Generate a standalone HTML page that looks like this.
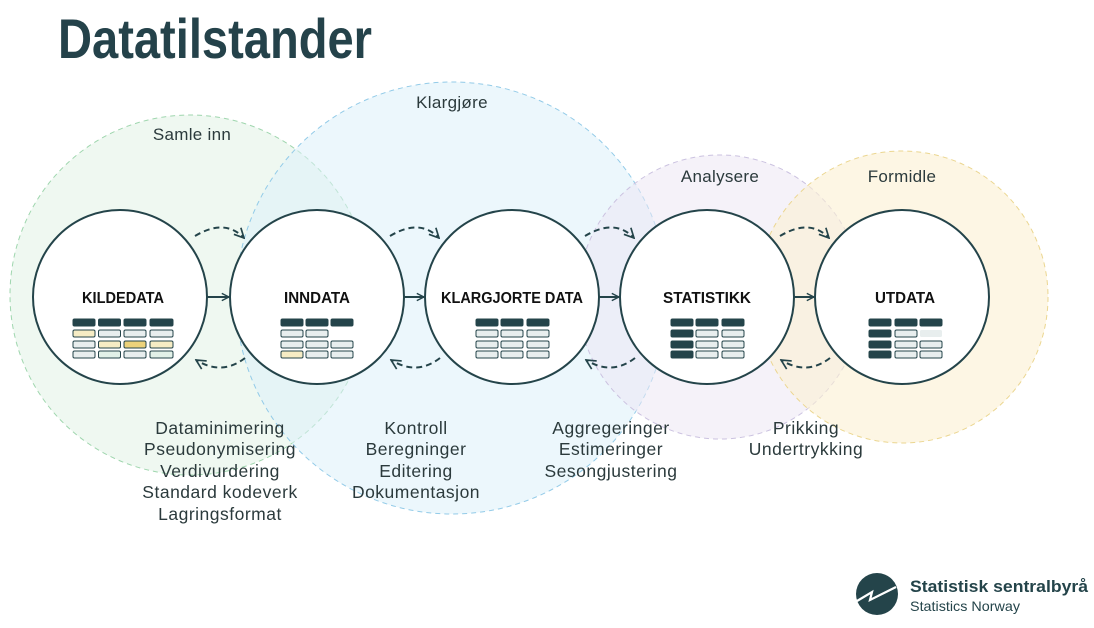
<!DOCTYPE html>
<html><head><meta charset="utf-8"><style>
html,body{margin:0;padding:0;background:#fff;}
svg{display:block;}
</style></head><body>
<svg width="1094" height="628" viewBox="0 0 1094 628" xmlns="http://www.w3.org/2000/svg" font-family="'Liberation Sans', sans-serif">
<defs>
<marker id="ah" viewBox="0 0 10 10" refX="9" refY="5" markerWidth="9" markerHeight="9" markerUnits="userSpaceOnUse" orient="auto">
<path d="M1,1 L9,5 L1,9" fill="none" stroke="#24444a" stroke-width="1.6"/>
</marker>
<marker id="ah2" viewBox="0 0 10 10" refX="9" refY="5" markerWidth="12" markerHeight="12" markerUnits="userSpaceOnUse" orient="auto">
<path d="M1,1 L9,5 L1,9" fill="none" stroke="#24444a" stroke-width="1.4"/>
</marker>
</defs>
<rect width="1094" height="628" fill="#fff"/>
<text x="58" y="58" font-size="56" font-weight="bold" fill="#24424a" textLength="314" lengthAdjust="spacingAndGlyphs">Datatilstander</text>

<circle cx="190" cy="295" r="180" fill="#e6f4ea" fill-opacity="0.65" stroke="#9fd6ae" stroke-dasharray="5,4"/>
<circle cx="452" cy="298" r="216" fill="#dcf0fa" fill-opacity="0.55" stroke="#93cbe8" stroke-dasharray="5,4"/>
<circle cx="720" cy="297" r="142" fill="#ece8f4" fill-opacity="0.55" stroke="#cbc2e0" stroke-dasharray="5,4"/>
<circle cx="902" cy="297" r="146" fill="#fbf0d2" fill-opacity="0.6" stroke="#ebd690" stroke-dasharray="5,4"/>

<g font-size="17" fill="#2b3a3c" text-anchor="middle" letter-spacing="0.3">
<text x="192" y="140">Samle inn</text>
<text x="452" y="108">Klargjøre</text>
<text x="720" y="182">Analysere</text>
<text x="902" y="182">Formidle</text>
</g>

<g fill="#fff" stroke="#24444a" stroke-width="2">
<circle cx="120" cy="297" r="87"/>
<circle cx="317" cy="297" r="87"/>
<circle cx="512" cy="297" r="87"/>
<circle cx="707" cy="297" r="87"/>
<circle cx="902" cy="297" r="87"/>
</g>

<g stroke="#24444a" stroke-width="2" marker-end="url(#ah)">
<line x1="207" y1="297" x2="229" y2="297"/>
<line x1="404" y1="297" x2="424" y2="297"/>
<line x1="599" y1="297" x2="619" y2="297"/>
<line x1="794" y1="297" x2="814" y2="297"/>
</g>

<g fill="none" stroke="#24444a" stroke-width="2" stroke-dasharray="6,4">
<path d="M195,236 Q225,218 244,238" marker-end="url(#ah2)"/>
<path d="M245,358 Q222,376 196,360" marker-end="url(#ah2)"/>
<path d="M390,236 Q420,218 439,238" marker-end="url(#ah2)"/>
<path d="M440,358 Q417,376 391,360" marker-end="url(#ah2)"/>
<path d="M585,236 Q615,218 634,238" marker-end="url(#ah2)"/>
<path d="M635,358 Q612,376 586,360" marker-end="url(#ah2)"/>
<path d="M780,236 Q810,218 829,238" marker-end="url(#ah2)"/>
<path d="M830,358 Q807,376 781,360" marker-end="url(#ah2)"/>
</g>

<g font-size="16" font-weight="bold" fill="#111" text-anchor="middle">
<text x="123" y="303" textLength="82" lengthAdjust="spacingAndGlyphs">KILDEDATA</text>
<text x="317" y="303" textLength="66" lengthAdjust="spacingAndGlyphs">INNDATA</text>
<text x="512" y="303" textLength="142" lengthAdjust="spacingAndGlyphs">KLARGJORTE DATA</text>
<text x="707" y="303" textLength="88" lengthAdjust="spacingAndGlyphs">STATISTIKK</text>
<text x="905" y="303" textLength="60" lengthAdjust="spacingAndGlyphs">UTDATA</text>
</g>

<g stroke="#24444a" stroke-width="1" fill="#e8eeee">
<g fill="#24444a"><rect x="73" y="319" width="22" height="7" rx="1.5"/><rect x="98.5" y="319" width="22" height="7" rx="1.5"/><rect x="124" y="319" width="22" height="7" rx="1.5"/><rect x="150" y="319" width="23" height="7" rx="1.5"/></g>
<rect x="73" y="330" width="22" height="7" rx="1.5" fill="#f6ecc4"/><rect x="98.5" y="330" width="22" height="7" rx="1.5"/><rect x="124" y="330" width="22" height="7" rx="1.5"/><rect x="150" y="330" width="23" height="7" rx="1.5"/>
<rect x="73" y="341" width="22" height="7" rx="1.5"/><rect x="98.5" y="341" width="22" height="7" rx="1.5" fill="#f6ecc4"/><rect x="124" y="341" width="22" height="7" rx="1.5" fill="#ecd27a"/><rect x="150" y="341" width="23" height="7" rx="1.5" fill="#f6ecc4"/>
<rect x="73" y="351" width="22" height="7" rx="1.5"/><rect x="98.5" y="351" width="22" height="7" rx="1.5" fill="#e2f1e8"/><rect x="124" y="351" width="22" height="7" rx="1.5"/><rect x="150" y="351" width="23" height="7" rx="1.5" fill="#e2f1e8"/>
<g fill="#24444a"><rect x="281" y="319" width="22" height="7" rx="1.5"/><rect x="306" y="319" width="22" height="7" rx="1.5"/><rect x="331" y="319" width="22" height="7" rx="1.5"/></g>
<rect x="281" y="330" width="22" height="7" rx="1.5"/><rect x="306" y="330" width="22" height="7" rx="1.5"/>
<rect x="281" y="341" width="22" height="7" rx="1.5"/><rect x="306" y="341" width="22" height="7" rx="1.5"/><rect x="331" y="341" width="22" height="7" rx="1.5"/>
<rect x="281" y="351" width="22" height="7" rx="1.5" fill="#f6ecc4"/><rect x="306" y="351" width="22" height="7" rx="1.5"/><rect x="331" y="351" width="22" height="7" rx="1.5"/>
<g fill="#24444a"><rect x="476" y="319" width="22" height="7" rx="1.5"/><rect x="501" y="319" width="22" height="7" rx="1.5"/><rect x="527" y="319" width="22" height="7" rx="1.5"/></g>
<rect x="476" y="330" width="22" height="7" rx="1.5"/><rect x="501" y="330" width="22" height="7" rx="1.5"/><rect x="527" y="330" width="22" height="7" rx="1.5"/>
<rect x="476" y="341" width="22" height="7" rx="1.5"/><rect x="501" y="341" width="22" height="7" rx="1.5"/><rect x="527" y="341" width="22" height="7" rx="1.5"/>
<rect x="476" y="351" width="22" height="7" rx="1.5"/><rect x="501" y="351" width="22" height="7" rx="1.5"/><rect x="527" y="351" width="22" height="7" rx="1.5"/>
<g fill="#24444a"><rect x="671" y="319" width="22" height="7" rx="1.5"/><rect x="696" y="319" width="22" height="7" rx="1.5"/><rect x="722" y="319" width="22" height="7" rx="1.5"/>
<rect x="671" y="330" width="22" height="7" rx="1.5"/><rect x="671" y="341" width="22" height="7" rx="1.5"/><rect x="671" y="351" width="22" height="7" rx="1.5"/></g>
<rect x="696" y="330" width="22" height="7" rx="1.5"/><rect x="722" y="330" width="22" height="7" rx="1.5"/>
<rect x="696" y="341" width="22" height="7" rx="1.5"/><rect x="722" y="341" width="22" height="7" rx="1.5"/>
<rect x="696" y="351" width="22" height="7" rx="1.5"/><rect x="722" y="351" width="22" height="7" rx="1.5"/>
<g fill="#24444a"><rect x="869" y="319" width="22" height="7" rx="1.5"/><rect x="895" y="319" width="22" height="7" rx="1.5"/><rect x="920" y="319" width="22" height="7" rx="1.5"/>
<rect x="869" y="330" width="22" height="7" rx="1.5"/><rect x="869" y="341" width="22" height="7" rx="1.5"/><rect x="869" y="351" width="22" height="7" rx="1.5"/></g>
<rect x="895" y="330" width="22" height="7" rx="1.5"/><rect x="920" y="330" width="22" height="7" rx="1.5" stroke="none" fill="#e8eeee"/>
<rect x="895" y="341" width="22" height="7" rx="1.5"/><rect x="920" y="341" width="22" height="7" rx="1.5"/>
<rect x="895" y="351" width="22" height="7" rx="1.5"/><rect x="920" y="351" width="22" height="7" rx="1.5"/>
</g>

<g font-size="17.5" fill="#2b3a3c" text-anchor="middle" letter-spacing="0.5">
<text x="220" y="434">Dataminimering</text>
<text x="220" y="455">Pseudonymisering</text>
<text x="220" y="477">Verdivurdering</text>
<text x="220" y="498">Standard kodeverk</text>
<text x="220" y="520">Lagringsformat</text>
<text x="416" y="434">Kontroll</text>
<text x="416" y="455">Beregninger</text>
<text x="416" y="477">Editering</text>
<text x="416" y="498">Dokumentasjon</text>
<text x="611" y="434">Aggregeringer</text>
<text x="611" y="455">Estimeringer</text>
<text x="611" y="477">Sesongjustering</text>
<text x="806" y="434">Prikking</text>
<text x="806" y="455">Undertrykking</text>
</g>

<circle cx="877" cy="594" r="21" fill="#24444a"/>
<path d="M857,601 L872,592 L870,600 L896,587" fill="none" stroke="#fff" stroke-width="2.2" stroke-linejoin="miter"/>
<text x="910" y="592" font-size="17" font-weight="bold" fill="#24444a" textLength="178" lengthAdjust="spacingAndGlyphs">Statistisk sentralbyrå</text>
<text x="910" y="611" font-size="14" fill="#24444a" textLength="110" lengthAdjust="spacingAndGlyphs">Statistics Norway</text>
</svg>
</body></html>
